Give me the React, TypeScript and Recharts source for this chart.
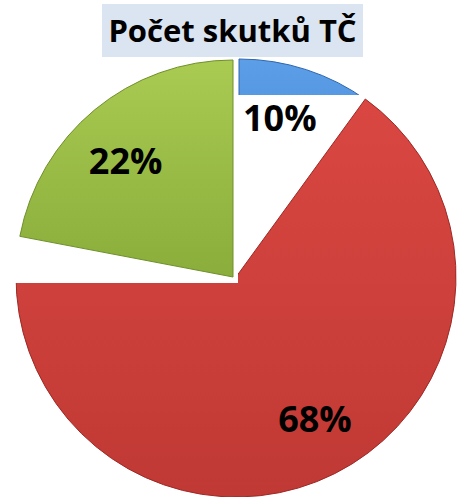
import { PieChart, Pie, Cell } from 'recharts';

// values
const groups = ['skupina A', 'skupina B', 'skupina C'];
const shares = [10, 68, 22];
const shareLabels = ['10%', '68%', '22%'];
const title = 'Počet skutků TČ';

const W = 462;
const H = 497;
const CX = 236;
const CY = 277;
const FONT = '"Open Sans", "Noto Sans", sans-serif';

// per-slice look: gradient, rim, small explode offset, label nudge
const sliceStyles = [
  { id: 'gBlue', top: '#5d9ee8', bottom: '#3c7ccf', edge: '#2f67ad', dx: 3, dy: 0, r: 218, clip: 'url(#clipBlue)', lx: -9, ly: -6 },
  { id: 'gRed', top: '#da4742', bottom: '#c03934', edge: '#9c2a26', dx: 0, dy: 0, r: 220, clip: 'url(#clipRed)', lx: 19, ly: -10 },
  { id: 'gGreen', top: '#a9cb52', bottom: '#8aad3b', edge: '#6f8f2b', dx: -3, dy: 0, r: 217, clip: undefined, lx: -5, ly: 7 },
];

const total = shares.reduce((a, b) => a + b, 0);
let acc = 0;
const slices = shares.map((v, i) => {
  const startAngle = 90 - (acc / total) * 360;
  acc += v;
  const endAngle = 90 - (acc / total) * 360;
  return { name: groups[i], value: v, text: shareLabels[i], startAngle, endAngle };
});

const RAD = Math.PI / 180;

const makeLabel = (i: number) => (p: any) => {
  const s = sliceStyles[i];
  const rr = p.outerRadius * 0.74;
  const x = p.cx + rr * Math.cos(-p.midAngle * RAD) + s.lx;
  const y = p.cy + rr * Math.sin(-p.midAngle * RAD) + s.ly;
  return (
    <text
      x={x}
      y={y}
      textAnchor="middle"
      dominantBaseline="central"
      fontFamily={FONT}
      fontWeight={700}
      fontSize={36}
      fill="#000"
    >
      {slices[i].text}
    </text>
  );
};

export default function App() {
  return (
    <div style={{ position: 'absolute', left: 0, top: 0, width: W, height: H, background: '#fff', overflow: 'hidden' }}>
      <svg width={0} height={0} style={{ position: 'absolute' }}>
        <defs>
          {sliceStyles.map((s) => (
            <linearGradient key={s.id} id={s.id} x1="0" y1="0" x2="0" y2="1">
              <stop offset="0%" stopColor={s.top} />
              <stop offset="100%" stopColor={s.bottom} />
            </linearGradient>
          ))}
          <clipPath id="clipBlue">
            <rect x={0} y={0} width={W} height={95} />
          </clipPath>
          <clipPath id="clipRed">
            <path d={`M238 0 L${W} 0 L${W} ${H} L0 ${H} L0 283 L238 283 Z`} />
          </clipPath>
        </defs>
      </svg>
      <div
        style={{
          position: 'absolute',
          left: 102,
          top: 4,
          width: 261,
          height: 53,
          background: '#dbe5f1',
          fontFamily: FONT,
          fontWeight: 700,
          fontSize: 31,
          lineHeight: '53px',
          textAlign: 'center',
          color: '#000',
          whiteSpace: 'nowrap',
          zIndex: 2,
        }}
      >
        {title}
      </div>
      <div style={{ position: 'absolute', left: 0, top: 0 }}>
        <PieChart width={W} height={H} margin={{ top: 0, right: 0, bottom: 0, left: 0 }}>
          {slices.map((d, i) => {
            const s = sliceStyles[i];
            return (
              <Pie
                key={d.name}
                data={[d]}
                dataKey="value"
                nameKey="name"
                cx={CX + s.dx}
                cy={CY + s.dy}
                outerRadius={s.r}
                startAngle={d.startAngle}
                endAngle={d.endAngle}
                stroke={s.edge}
                strokeWidth={1}
                labelLine={false}
                label={makeLabel(i)}
                isAnimationActive={false}
              >
                <Cell fill={`url(#${s.id})`} clipPath={s.clip} />
              </Pie>
            );
          })}
        </PieChart>
      </div>
    </div>
  );
}
